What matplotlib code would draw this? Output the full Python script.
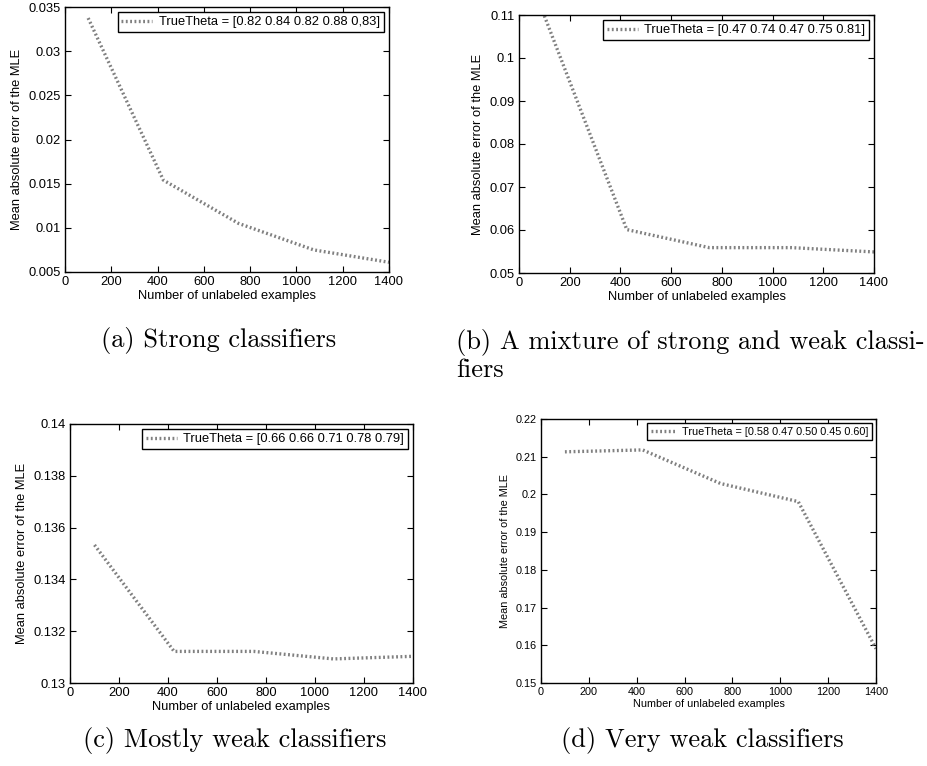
import numpy as np
import matplotlib
matplotlib.use('Agg')
from matplotlib import pyplot as plt
from matplotlib.ticker import FuncFormatter

# number of unlabeled examples (same grid for all four runs)
n_unlabeled = [100, 425, 750, 1075, 1400]

# mean absolute error of the MLE
err_strong = [0.03375, 0.0154, 0.0105, 0.0075, 0.0061]
err_mixture = [0.1098, 0.0601, 0.0559, 0.0559, 0.0549]
err_mostly_weak = [0.13533, 0.13122, 0.13122, 0.13093, 0.13103]
err_very_weak = [0.2113, 0.2118, 0.2029, 0.1981, 0.1591]

legend_labels = ['TrueTheta = [0.82 0.84 0.82 0.88 0,83]',
                 'TrueTheta = [0.47 0.74 0.47 0.75 0.81]',
                 'TrueTheta = [0.66 0.66 0.71 0.78 0.79]',
                 'TrueTheta = [0.58 0.47 0.50 0.45 0.60]']
captions = ['(a) Strong classifiers',
            '(b) A mixture of strong and weak classi-\nfiers',
            '(c) Mostly weak classifiers',
            '(d) Very weak classifiers']
y_ticks = [np.linspace(0.005, 0.035, 7),
           np.linspace(0.05, 0.11, 7),
           np.linspace(0.13, 0.14, 6),
           np.linspace(0.15, 0.22, 8)]

W, H = 928, 766
plt.rcParams['font.family'] = ['Liberation Sans', 'DejaVu Sans']


def px_box(left, top, right, bottom):
    return [left / W, 1 - bottom / H, (right - left) / W, (bottom - top) / H]


def draw_panel(fig, box, y, label, yt, fs):
    ax = fig.add_axes(px_box(*box))
    ax.plot(n_unlabeled, y, color='0.5', lw=2.4, linestyle=(0, (0.55, 0.75)),
            label=label)
    ax.set_xlim(0, 1400)
    ax.set_ylim(yt[0], yt[-1])
    ax.set_xticks(np.arange(0, 1401, 200))
    ax.set_yticks(yt)
    ax.yaxis.set_major_formatter(FuncFormatter(lambda v, p: '{:g}'.format(round(v, 6))))
    ax.tick_params(direction='in', top=True, right=True, length=4, width=0.8,
                   labelsize=fs, pad=3)
    for s in ax.spines.values():
        s.set_linewidth(1.0)
    ax.set_xlabel('Number of unlabeled examples', fontsize=fs, labelpad=1)
    ax.set_ylabel('Mean absolute error of the MLE', fontsize=fs, labelpad=4)
    leg = ax.legend(loc='upper right', fontsize=fs, fancybox=False,
                    framealpha=1, edgecolor='black', handlelength=2.4,
                    handletextpad=0.5, borderpad=0.3, borderaxespad=0.4)
    leg.get_frame().set_linewidth(1.0)
    return ax


def caption(fig, x, y, text, ha):
    fig.text(x / W, 1 - y / H, text, ha=ha, va='baseline',
             fontsize=19, fontfamily='cmr10')


def main():
    fig = plt.figure(figsize=(W / 100, H / 100), dpi=100)

    draw_panel(fig, (65, 7, 389, 272), err_strong, legend_labels[0], y_ticks[0], 9.3)
    draw_panel(fig, (519, 15, 874, 273), err_mixture, legend_labels[1], y_ticks[1], 9.3)
    draw_panel(fig, (70, 424, 413, 683), err_mostly_weak, legend_labels[2], y_ticks[2], 9.3)
    draw_panel(fig, (541, 419, 876, 683), err_very_weak, legend_labels[3], y_ticks[3], 7.8)

    caption(fig, 219, 347, captions[0], 'center')
    line1, line2 = captions[1].split('\n')
    caption(fig, 456, 349, line1, 'left')
    caption(fig, 456, 377, line2, 'left')
    caption(fig, 235, 747, captions[2], 'center')
    caption(fig, 702, 747, captions[3], 'center')

    fig.savefig('out.png', dpi=100)


if __name__ == '__main__':
    main()
